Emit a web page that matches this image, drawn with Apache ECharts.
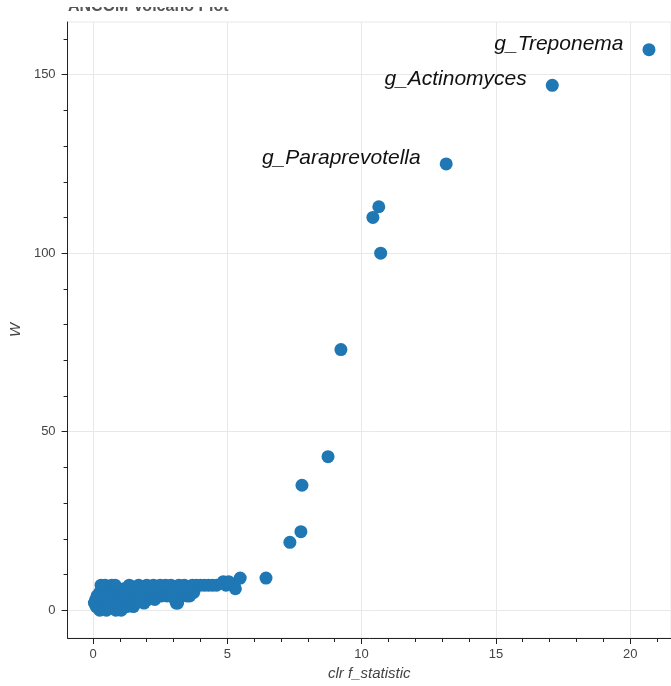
<!DOCTYPE html>
<html lang="en">
<head>
    <meta charset="UTF-8">
    <title>ANCOM Volcano Plot</title>
    <script src="https://cdn.jsdelivr.net/npm/echarts@6/dist/echarts.min.js"></script>
</head>
<style>
    body{
        margin: 0;
        padding: 0;
        background: #fff;
    }
</style>
<body>
<div id="main" style="width: 671px;height:686px;"></div>
<script>
    // clr F statistic vs W
    var clusterPoints = [
        [0.25, 0], [0.5, 0], [0.85, 0], [1.05, 0],
        [0.12, 1], [0.35, 1], [0.62, 1], [0.95, 1], [1.25, 1], [1.5, 1],
        [0.05, 2], [0.22, 2], [0.42, 2], [0.72, 2], [1.0, 2], [1.4, 2], [1.6, 2], [1.9, 2], [3.1, 2], [3.15, 2],
        [0.1, 3], [0.3, 3], [0.55, 3], [0.8, 3], [1.1, 3], [1.45, 3], [1.75, 3], [2.05, 3], [2.3, 3], [3.05, 3],
        [0.15, 4], [0.4, 4], [0.65, 4], [0.92, 4], [1.2, 4], [1.55, 4], [1.8, 4], [2.1, 4], [2.35, 4], [2.55, 4],
        [2.75, 4], [2.95, 4], [3.25, 4], [3.5, 4], [3.6, 4],
        [0.25, 5], [0.5, 5], [0.75, 5], [1.0, 5], [1.3, 5], [1.65, 5], [1.95, 5], [2.2, 5], [2.45, 5], [2.65, 5],
        [2.85, 5], [3.15, 5], [3.35, 5], [3.6, 5], [3.75, 5],
        [0.38, 6], [0.6, 6], [0.9, 6], [1.15, 6], [1.5, 6], [1.85, 6], [2.15, 6], [2.4, 6], [2.6, 6], [2.8, 6],
        [3.0, 6], [3.3, 6], [3.55, 6], [5.3, 6],
        [0.3, 7], [0.45, 7], [0.7, 7], [0.82, 7], [1.35, 7], [1.7, 7], [2.0, 7], [2.25, 7], [2.5, 7], [2.7, 7],
        [2.9, 7], [3.2, 7], [3.4, 7], [3.7, 7], [3.85, 7], [4.0, 7], [4.15, 7], [4.3, 7], [4.45, 7], [4.6, 7],
        [4.95, 7], [5.25, 7],
        [4.85, 8], [5.05, 8],
        [5.48, 9], [6.44, 9]
    ];
    var outlierPoints = [
        [7.33, 19], [7.74, 22], [7.78, 35], [8.75, 43], [9.23, 73],
        [10.71, 100], [10.42, 110], [10.64, 113]
    ];
    var labelNames = ['g_Paraprevotella', 'g_Actinomyces', 'g_Treponema'];
    var labelX = [13.15, 17.10, 20.70];
    var labelW = [125, 147, 157];

    var xTicks = [0, 5, 10, 15, 20];
    var xMinorTicks = [1, 2, 3, 4, 6, 7, 8, 9, 11, 12, 13, 14, 16, 17, 18, 19, 21];
    var yTicks = [0, 50, 100, 150];
    var yMinorTicks = [10, 20, 30, 40, 60, 70, 80, 90, 110, 120, 130, 140, 160];

    var font = 'Liberation Sans, Arial, Helvetica, sans-serif';
    var axisColor = '#222';
    var gridColor = '#e8e8e8';

    var labeled = [];
    for (var i = 0; i < labelNames.length; i++) {
        labeled.push({name: labelNames[i], value: [labelX[i], labelW[i]]});
    }
    var allPoints = clusterPoints.concat(outlierPoints);

    function mainAxis(extra) {
        var ax = {
            type: 'value',
            axisLine: {show: true, onZero: false, lineStyle: {color: axisColor, width: 1}},
            splitLine: {show: true, lineStyle: {color: gridColor, width: 1}},
            nameTextStyle: {color: '#444', fontSize: 15, fontStyle: 'italic', fontFamily: font},
            nameLocation: 'middle'
        };
        for (var k in extra) ax[k] = extra[k];
        return ax;
    }
    function minorAxis(extra) {
        var ax = {
            type: 'value',
            axisLine: {show: false, onZero: false},
            axisLabel: {show: false},
            splitLine: {show: false}
        };
        for (var k in extra) ax[k] = extra[k];
        return ax;
    }

    var chart = echarts.init(document.getElementById('main'));
    var option = {
        animation: false,
        backgroundColor: '#fff',
        title: {
            text: 'ANCOM Volcano Plot',
            left: 63,
            top: -6,
            textStyle: {color: '#555', fontSize: 16, fontWeight: 'bold', fontFamily: font}
        },
        graphic: [{
            type: 'rect',
            left: 0, top: 0, z: 100,
            shape: {width: 671, height: 7},
            style: {fill: '#fff'}
        }],
        grid: {
            left: 67, right: -1, top: 22, bottom: 44,
            show: true, borderColor: gridColor, borderWidth: 1
        },
        xAxis: [
            mainAxis({
                min: -0.947, max: 21.52, splitNumber: 4,
                name: 'clr f_statistic', nameGap: 28,
                axisTick: {show: true, length: 6, customValues: xTicks, lineStyle: {color: axisColor}},
                axisLabel: {color: '#444', fontSize: 13, fontFamily: font, margin: 10, customValues: xTicks}
            }),
            minorAxis({
                min: -0.947, max: 21.52, position: 'bottom',
                axisTick: {show: true, length: 4, customValues: xMinorTicks, lineStyle: {color: axisColor}}
            })
        ],
        yAxis: [
            mainAxis({
                min: -7.79, max: 164.75, splitNumber: 3,
                position: 'left',
                name: 'W', nameGap: 41,
                axisTick: {show: true, length: 6, customValues: yTicks, lineStyle: {color: axisColor}},
                axisLabel: {color: '#444', fontSize: 13, fontFamily: font, margin: 12, customValues: yTicks}
            }),
            minorAxis({
                min: -7.79, max: 164.75, position: 'left',
                axisTick: {show: true, length: 4, customValues: yMinorTicks, lineStyle: {color: axisColor}}
            })
        ],
        series: [{
            name: 'W',
            type: 'scatter',
            symbolSize: 13,
            itemStyle: {color: '#1f77b4', opacity: 1},
            data: allPoints
        }, {
            name: 'labeled',
            type: 'scatter',
            symbolSize: 13,
            itemStyle: {color: '#1f77b4', opacity: 1},
            label: {
                show: true,
                position: 'left',
                distance: 19,
                offset: [0, -6],
                formatter: '{b}',
                color: '#111',
                fontSize: 21,
                fontStyle: 'italic',
                fontFamily: font
            },
            data: labeled
        }]
    };
    chart.setOption(option);
</script>
</body>
</html>
